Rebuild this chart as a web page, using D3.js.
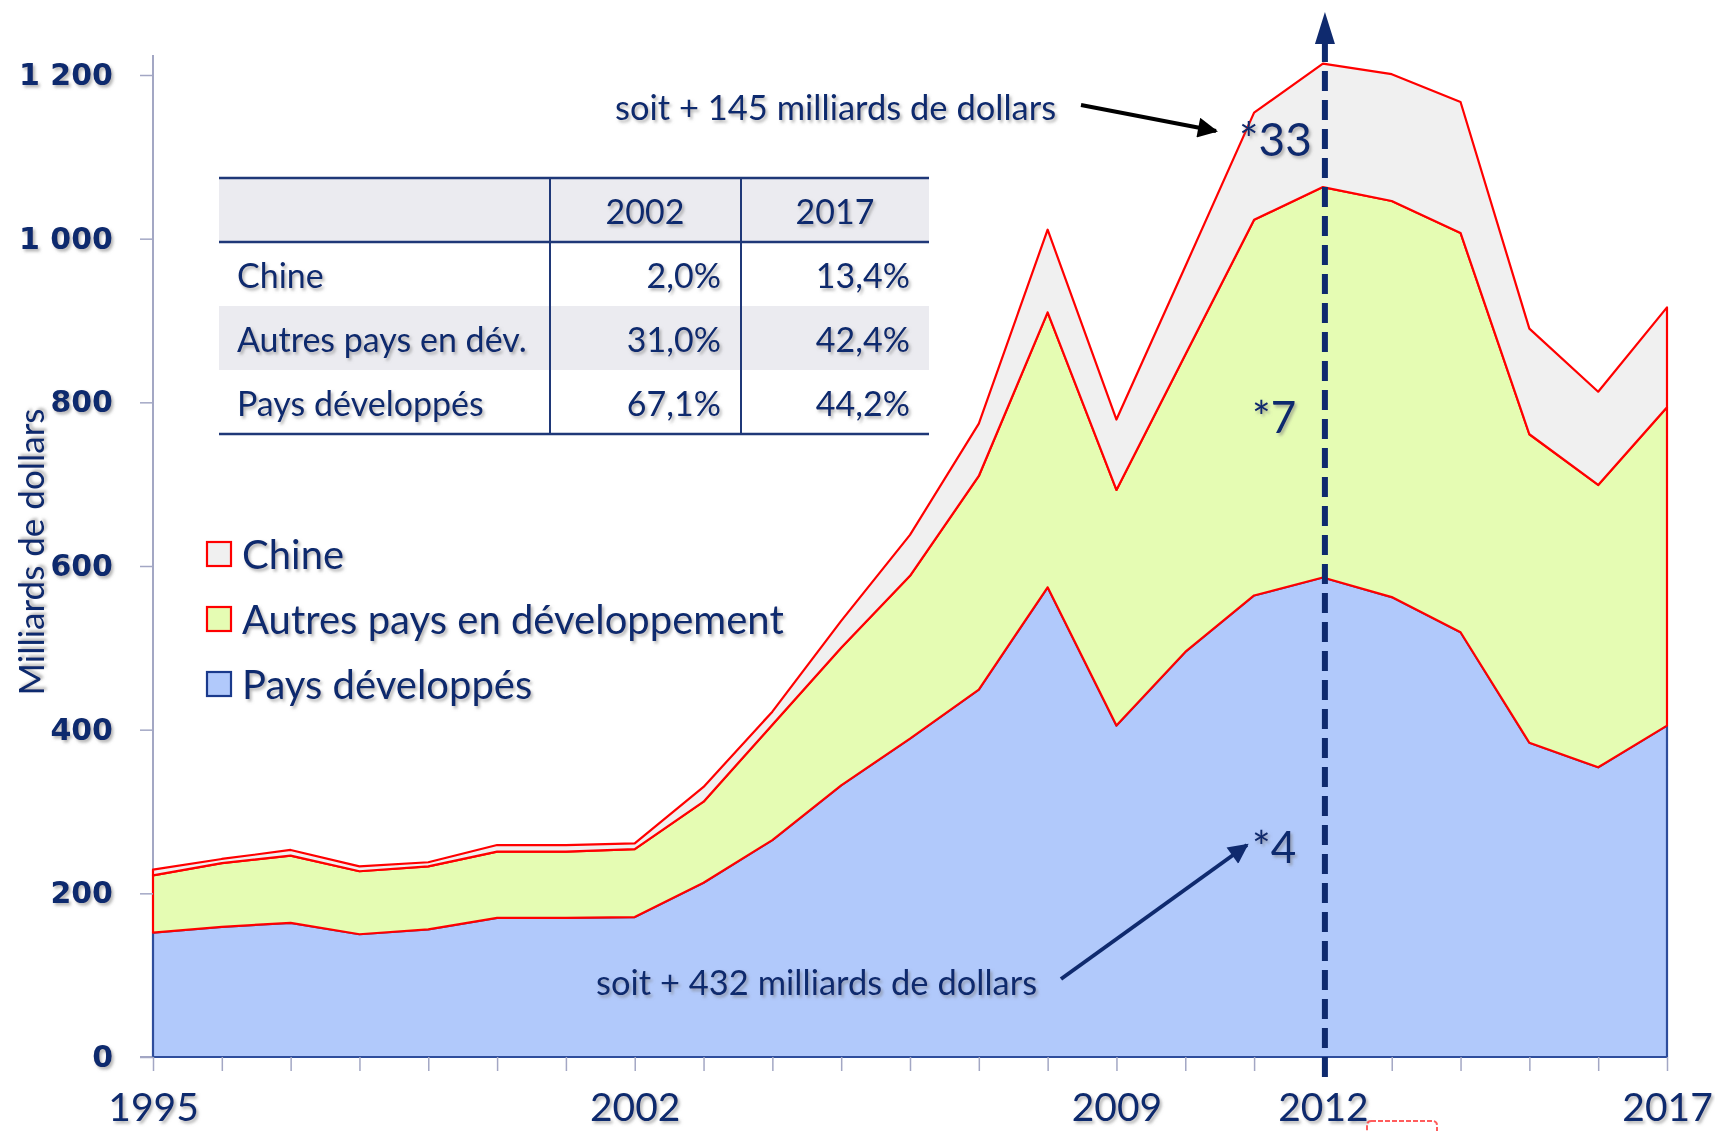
<!DOCTYPE html>
<html><head><meta charset="utf-8">
<script src="https://cdn.jsdelivr.net/npm/d3@7"></script>
<style>html,body{margin:0;padding:0;background:#fff;overflow:hidden}</style>
</head><body>
<svg id="chart" width="1715" height="1131"></svg>
<script>
const years = d3.range(1995, 2018);
const developed = [152,159,164,150,156,170,170,171,213,265,332,389,449,574,405,495,564,586,562,519,384,354,405];
const others    = [70,78,82,77,77,81,81,83,99,141,168,199,261,336,288,363,459,477,484,488,377,345,389];
const china     = [7,5,7,6,5,8,8,7,18,16,33,50,64,101,86,108,131,151,155,160,129,114,122];
const seriesNames = ["Pays développés","Autres pays en développement","Chine"];
const yTicks = [0,200,400,600,800,1000,1200];
const yTickLabels = ["0","200","400","600","800","1 000","1 200"];
const xLabelYears = [1995,2002,2009,2012,2017];
const tableHeader = ["","2002","2017"];
const tableRows = [["Chine","2,0%","13,4%"],["Autres pays en dév.","31,0%","42,4%"],["Pays développés","67,1%","44,2%"]];
const legendNames = ["Chine","Autres pays en développement","Pays développés"];

const navy = "#0f2a6e";
const fills = {"Pays développés":"#b1c9fb","Autres pays en développement":"#e5fcb3","Chine":"#f0f0f0"};
const strokes = {"Pays développés":"#2e4d9c","Autres pays en développement":"#ff0000","Chine":"#ff0000"};
const font = "Lato, 'Noto Sans', sans-serif";

const svg = d3.select("#chart");
const defs = svg.append("defs");
const f = defs.append("filter").attr("id","sh").attr("x","-10%").attr("y","-30%").attr("width","130%").attr("height","170%");
f.append("feDropShadow").attr("dx",2).attr("dy",2.5).attr("stdDeviation",1.6).attr("flood-color","#777").attr("flood-opacity",0.55);
defs.append("marker").attr("id","ahBlack").attr("viewBox","0 0 10 10").attr("refX",9).attr("refY",5)
  .attr("markerWidth",6).attr("markerHeight",5).attr("markerUnits","strokeWidth").attr("orient","auto")
  .append("path").attr("d","M0,0 L10,5 L0,10 Z").attr("fill","#000");
defs.append("marker").attr("id","ahNavy").attr("viewBox","0 0 10 10").attr("refX",9).attr("refY",5)
  .attr("markerWidth",6).attr("markerHeight",5).attr("markerUnits","strokeWidth").attr("orient","auto")
  .append("path").attr("d","M0,0 L10,5 L0,10 Z").attr("fill",navy);

const x = d3.scaleLinear().domain([1995,2017]).range([153,1667]);
const y = d3.scaleLinear().domain([0,1200]).range([1057,75]);

const table = years.map((yr,i)=>({year:yr,"Pays développés":developed[i],"Autres pays en développement":others[i],"Chine":china[i]}));
const stack = d3.stack().keys(seriesNames)(table);
const area = d3.area().x(d=>x(d.data.year)).y0(d=>y(d[0])).y1(d=>y(d[1]));

// axis lines
const axisCol = "#a3a7c4";
svg.append("line").attr("x1",153).attr("x2",153).attr("y1",55).attr("y2",1057).attr("stroke",axisCol).attr("stroke-width",2);
svg.append("line").attr("x1",140).attr("x2",1667).attr("y1",1057).attr("y2",1057).attr("stroke",axisCol).attr("stroke-width",2);

// areas
svg.append("g").selectAll("path").data(stack).join("path")
  .attr("d",area).attr("fill",d=>fills[d.key]).attr("stroke",d=>strokes[d.key])
  .attr("stroke-width",2.2).attr("stroke-linejoin","round");

// y ticks
const yAxis = d3.axisLeft(y).tickValues(yTicks).tickSize(13).tickFormat((d,i)=>yTickLabels[i]);
const gy = svg.append("g").attr("transform","translate(153,0)").call(yAxis);
gy.select(".domain").remove();
gy.selectAll(".tick line").attr("stroke",axisCol).attr("stroke-width",1.5);
gy.selectAll(".tick text").attr("x",-40).attr("fill",navy)
  .attr("font-family","'DejaVu Sans', Verdana, sans-serif").attr("font-weight","bold").attr("font-size",30)
  .attr("filter","url(#sh)");

// x ticks
const xAxis = d3.axisBottom(x).tickValues(years).tickSize(14).tickFormat(d=>xLabelYears.includes(d)?String(d):"");
const gx = svg.append("g").attr("transform","translate(0,1057)").call(xAxis);
gx.select(".domain").remove();
gx.selectAll(".tick line").attr("stroke",axisCol).attr("stroke-width",1.5);
gx.selectAll(".tick text").attr("y",64).attr("dy","0").attr("fill",navy)
  .attr("font-family",font).attr("font-size",39).attr("filter","url(#sh)");

// y axis title
svg.append("text").attr("transform","translate(30,552) rotate(-90)").attr("text-anchor","middle")
  .attr("dominant-baseline","central").attr("font-family",font).attr("font-size",35).attr("fill",navy)
  .attr("filter","url(#sh)").text("Milliards de dollars");

// table
const tL=219, tR=929, c1=550, c2=741, rowY=[178,242,306,370,434];
const tg = svg.append("g");
tg.append("rect").attr("x",tL).attr("y",rowY[0]).attr("width",tR-tL).attr("height",rowY[1]-rowY[0]).attr("fill","#ebebf0");
tg.append("rect").attr("x",tL).attr("y",rowY[2]).attr("width",tR-tL).attr("height",rowY[3]-rowY[2]).attr("fill","#ebebf0");
[rowY[0],rowY[1],rowY[4]].forEach(yy=>tg.append("line").attr("x1",tL).attr("x2",tR).attr("y1",yy).attr("y2",yy).attr("stroke","#1f3878").attr("stroke-width",2.5));
[c1,c2].forEach(xx=>tg.append("line").attr("x1",xx).attr("x2",xx).attr("y1",rowY[0]).attr("y2",rowY[4]).attr("stroke","#1f3878").attr("stroke-width",2));
const tText = (t,xx,yy,anchor)=>tg.append("text").attr("x",xx).attr("y",yy).attr("text-anchor",anchor)
  .attr("dominant-baseline","central").attr("font-family",font).attr("font-size",34).attr("fill",navy).attr("filter","url(#sh)").text(t);
tText(tableHeader[1],645,210,"middle");
tText(tableHeader[2],835,210,"middle");
tableRows.forEach((r,i)=>{
  const yy=(rowY[i+1]+rowY[i+2])/2;
  tText(r[0],237,yy,"start");
  tText(r[1],721,yy,"end");
  tText(r[2],910,yy,"end");
});

// legend
const lg = svg.append("g");
legendNames.forEach((n,i)=>{
  const cy = 554 + i*65;
  lg.append("rect").attr("x",207).attr("y",cy-12).attr("width",24).attr("height",24)
    .attr("fill",fills[n]).attr("stroke",n==="Pays développés"?"#1a3a8c":"#ff0000").attr("stroke-width",2.2);
  lg.append("text").attr("x",242).attr("y",cy).attr("dominant-baseline","central")
    .attr("font-family",font).attr("font-size",40).attr("fill",navy).attr("filter","url(#sh)").text(n);
});

// dashed 2012 line
const x12 = x(2012)+2;
svg.append("line").attr("x1",x12).attr("x2",x12).attr("y1",1077).attr("y2",42)
  .attr("stroke",navy).attr("stroke-width",6).attr("stroke-dasharray","20,9");
svg.append("path").attr("d",`M${x12},12 L${x12-10},44 L${x12+10},44 Z`).attr("fill",navy);

// annotations
const ann = (t,xx,yy,size,anchor)=>svg.append("text").attr("x",xx).attr("y",yy).attr("text-anchor",anchor||"start")
  .attr("dominant-baseline","central").attr("font-family",font).attr("font-size",size).attr("fill",navy).attr("filter","url(#sh)").text(t);
ann("soit + 145 milliards de dollars",615,106,34.5);
ann("*33",1239,138,46);
ann("*7",1252,416,44);
ann("*4",1252,846,44);
ann("soit + 432 milliards de dollars",596,981,34.5);
svg.append("line").attr("x1",1081).attr("y1",105).attr("x2",1216).attr("y2",131).attr("stroke","#000").attr("stroke-width",4).attr("marker-end","url(#ahBlack)");
svg.append("line").attr("x1",1061).attr("y1",979).attr("x2",1247).attr("y2",845).attr("stroke",navy).attr("stroke-width",4).attr("marker-end","url(#ahNavy)");

// small cut-off red mark under 2012
svg.append("rect").attr("x",1367).attr("y",1121).attr("width",70).attr("height",20).attr("rx",4)
  .attr("fill","none").attr("stroke","#f33").attr("stroke-width",2).attr("stroke-dasharray","5,2").attr("opacity",0.8);
</script>
</body></html>
